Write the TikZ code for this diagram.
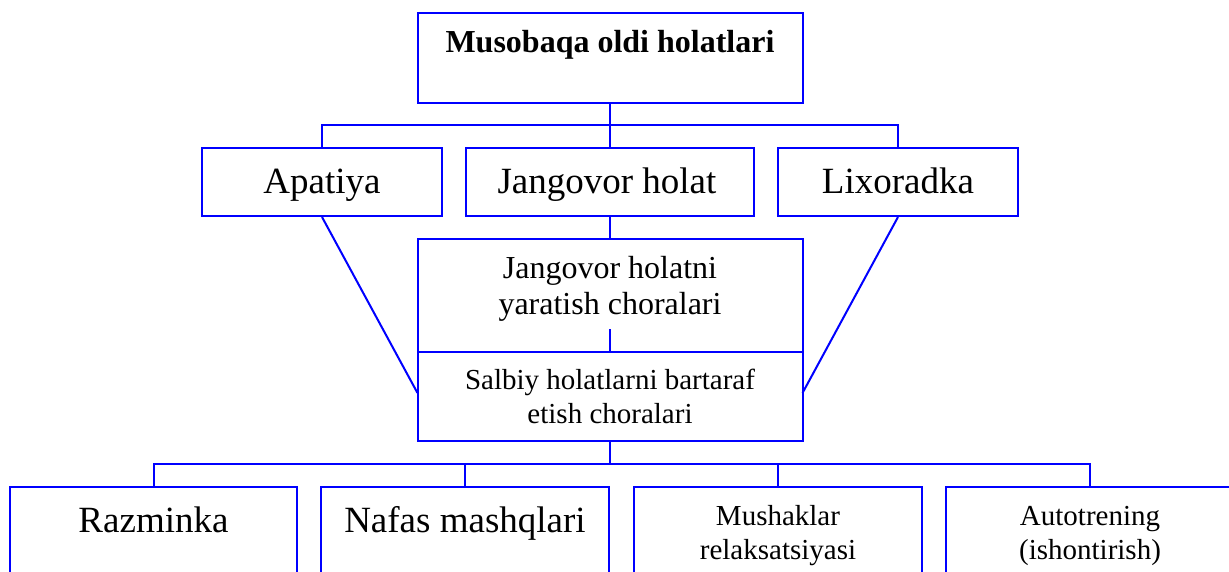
\documentclass[tikz,border=0pt]{standalone}
\usepackage{fontspec}
\setmainfont{Liberation Serif}
\begin{document}
\begin{tikzpicture}[x=1pt,y=-1pt,
  box/.style={draw=boxblue, line width=2pt, inner sep=0pt, fill=none},
  con/.style={draw=boxblue, line width=2pt},
  tbig/.style={font=\fontsize{37}{42}\selectfont, anchor=base, inner sep=0pt},
  tmid/.style={font=\fontsize{32}{36}\selectfont, anchor=base, inner sep=0pt},
  tsmall/.style={font=\fontsize{29}{33}\selectfont, anchor=base, inner sep=0pt}]
\definecolor{boxblue}{RGB}{0,0,255}
\useasboundingbox (0,0) rectangle (1229,572);
\clip (0,0) rectangle (1229,572);
% boxes
\node[box, minimum width=385pt, minimum height=90pt] (top) at (610,58) {};
\node[box, minimum width=240pt, minimum height=68pt] (apat) at (322,182) {};
\node[box, minimum width=288pt, minimum height=68pt] (jang) at (610,182) {};
\node[box, minimum width=240pt, minimum height=68pt] (lix) at (898,182) {};
\node[box, minimum width=385pt, minimum height=113pt] (mid1) at (610,295.5) {};
\node[box, minimum width=385pt, minimum height=89pt] (mid2) at (610,396.5) {};
\node[box, minimum width=287pt, minimum height=120pt] (raz) at (153.5,547) {};
\node[box, minimum width=288pt, minimum height=120pt] (naf) at (465,547) {};
\node[box, minimum width=288pt, minimum height=120pt] (mus) at (778,547) {};
\node[box, minimum width=288pt, minimum height=120pt] (aut) at (1090,547) {};
% texts
\node[tmid, font=\fontsize{32}{36}\selectfont\bfseries] (toptext) at (610,53) {Musobaqa oldi holatlari};
\node[tbig] (apattext) at (322,194) {Apatiya};
\node[tbig] (jangtext) at (607,194) {Jangovor holat};
\node[tbig] (lixtext) at (898,194) {Lixoradka};
\node[tmid] (m1a) at (610,278) {Jangovor holatni};
\node[tmid] (m1b) at (610,314) {yaratish choralari};
\node[tsmall] (m2a) at (610,389) {Salbiy holatlarni bartaraf};
\node[tsmall] (m2b) at (610,423) {etish choralari};
\node[tbig] (raztext) at (153.5,532) {Razminka};
\node[tbig] (naftext) at (465,532) {Nafas mashqlari};
\node[tsmall] (musa) at (778,525) {Mushaklar};
\node[tsmall] (musb) at (778,559) {relaksatsiyasi};
\node[tsmall] (auta) at (1090,525) {Autotrening};
\node[tsmall] (autb) at (1090,559) {(ishontirish)};
% coordinates
\coordinate (bus1) at (610,125);
\coordinate (stub) at (610,329);
\coordinate (midL) at (417.5,393);
\coordinate (midR) at (802.5,393);
\coordinate (bus2) at (610,464);
% connectors
\draw[con] (top.south) -- (jang.north);
\draw[con] (apat.north) -- (apat.north |- bus1) -| (lix.north);
\draw[con] (jang.south) -- (mid1.north);
\draw[con] (stub) -- (mid1.south);
\draw[con] (apat.south) -- (midL);
\draw[con] (lix.south) -- (midR);
\draw[con] (mid2.south) -- (bus2);
\draw[con] (raz.north) -- (raz.north |- bus2) -| (aut.north);
\draw[con] (naf.north) -- (naf.north |- bus2);
\draw[con] (mus.north) -- (mus.north |- bus2);
\end{tikzpicture}
\end{document}
